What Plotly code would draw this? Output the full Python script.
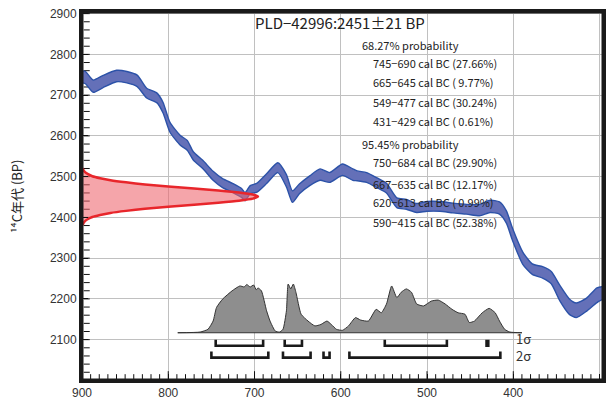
import plotly.graph_objects as go

# ---------------- data ----------------
# IntCal20 calibration curve (years BC, 14C BP centre, 1-sigma half width)
curve_year = [900, 896, 887, 876, 860, 848, 836, 825, 813, 806, 798, 786, 778, 771, 760, 748,
              737, 725, 715, 711, 705, 697, 686, 673, 663, 656, 648, 636, 624, 613, 598, 586,
              581, 570, 558, 547, 535, 524, 512, 500, 485, 470, 454, 439, 427, 416, 408, 401,
              389, 378, 366, 356, 346, 335, 327, 315, 303, 294]
curve_bp = [2745, 2743, 2722, 2733, 2747, 2744, 2735, 2705, 2693, 2669, 2621, 2589, 2577, 2551,
            2530, 2502, 2484, 2472, 2460, 2451, 2468, 2473, 2495, 2522, 2490, 2451, 2470, 2490,
            2505, 2498, 2517, 2505, 2502, 2498, 2485, 2472, 2436, 2432, 2423, 2427, 2427, 2423,
            2420, 2418, 2427, 2423, 2401, 2359, 2300, 2273, 2265, 2252, 2214, 2181, 2172, 2186,
            2209, 2216]
curve_sigma = [15, 15, 15, 15, 14, 14, 14, 12, 12, 13, 12, 12, 12, 10, 10, 11, 11, 11, 11, 10,
               10, 11, 12, 12, 15, 14, 12, 12, 14, 12, 14, 14, 12, 12, 12, 12, 12, 12, 11, 12,
               12, 12, 12, 14, 15, 15, 15, 15, 15, 13, 14, 15, 19, 19, 18, 16, 18, 15]

# measured radiocarbon date distribution (14C BP, extent in years from the left axis)
red_bp = [2381, 2386, 2391, 2396, 2401, 2406, 2411, 2416, 2421, 2426, 2431, 2436, 2441, 2446,
          2451, 2456, 2461, 2466, 2471, 2476, 2481, 2486, 2491, 2496, 2501, 2506, 2511, 2516, 2521]
red_extent = [0.8, 1.7, 3.5, 7, 12, 21, 33, 51, 73, 100, 130, 158, 182, 198,
              204, 198, 182, 158, 130, 100, 73, 51, 33, 21, 12, 7, 3.5, 1.7, 0.8]

# calibrated probability distribution (years BC, relative probability)
cal_year = [789, 763, 754, 748, 744, 737, 726, 717, 712, 709, 705, 701, 698, 696, 692, 686, 682,
            676, 671, 667, 663, 661, 658, 655, 652, 646, 638, 630, 623, 616, 611, 605, 598, 591,
            583, 577, 568, 559, 553, 547, 541, 535, 530, 524, 518, 512, 504, 495, 487, 479, 471,
            464, 456, 451, 445, 436, 428, 421, 416, 410, 404, 390]
cal_prob = [0, 0.014, 0.07, 0.24, 0.52, 0.69, 0.86, 0.96, 0.94, 0.99, 0.94, 0.98, 0.88, 0.92,
            0.86, 0.45, 0.24, 0.035, 0.014, 0.07, 0.45, 1.0, 0.90, 1.0, 0.83, 0.38, 0.24, 0.14,
            0.17, 0.24, 0.17, 0.07, 0.05, 0.14, 0.31, 0.26, 0.24, 0.48, 0.41, 0.59, 0.96, 0.72,
            0.83, 0.90, 0.83, 0.59, 0.55, 0.65, 0.67, 0.59, 0.48, 0.41, 0.38, 0.21, 0.24, 0.41,
            0.50, 0.41, 0.24, 0.07, 0.014, 0]

range_1s = [(745, 690), (665, 645), (549, 477), (431, 429)]
range_2s = [(750, 684), (667, 635), (620, 613), (590, 415)]

header_text = "OxCal v4.4.2 Bronk Ramsey (2020); r:1;Atmospheric data from Reimer et al (2020);"
title_text = "PLD−42996:2451±21 BP"
prob_head_1 = "68.27% probability"
prob_lines_1 = ["745−690 cal BC (27.66%)", "665−645 cal BC ( 9.77%)",
                "549−477 cal BC (30.24%)", "431−429 cal BC ( 0.61%)"]
prob_head_2 = "95.45% probability"
prob_lines_2 = ["750−684 cal BC (29.90%)", "667−635 cal BC (12.17%)",
                "620−613 cal BC ( 0.99%)", "590−415 cal BC (52.38%)"]
sigma_labels = ["1σ", "2σ"]
y_title = "¹⁴C年代 (BP)"

# ---------------- styling ----------------
FONT = "Noto Sans CJK JP"
X_LEFT = 900
X_RANGE = [900, 296]
Y_RANGE = [2001, 2904]
CAL_BASE = 2117
CAL_SCALE = 119.5
PX_PER_X = 521.0 / abs(X_RANGE[1] - X_RANGE[0])
PX_PER_Y = 368.0 / (Y_RANGE[1] - Y_RANGE[0])


def px2data(px, py):
    return X_RANGE[0] - (px - 82) / PX_PER_X, Y_RANGE[0] + (380 - py) / PX_PER_Y


fig = go.Figure()

# inside minor ticks along the left and bottom axes
tx, ty = [], []
for v in range(310, 900, 10):
    ln = 8 if v % 100 == 0 else 5
    tx += [v, v, None]
    ty += [Y_RANGE[0] + 2, Y_RANGE[0] + 2 + ln / PX_PER_Y, None]
for v in range(2020, 2901, 20):
    tx += [X_RANGE[0] - 2, X_RANGE[0] - 2 - 6 / PX_PER_X, None]
    ty += [v, v, None]
fig.add_trace(go.Scatter(x=tx, y=ty, mode="lines", line=dict(color="#111", width=1)))

# calibration curve band
lower = [c - s for c, s in zip(curve_bp, curve_sigma)]
upper = [c + s for c, s in zip(curve_bp, curve_sigma)]
fig.add_trace(go.Scatter(x=curve_year, y=lower, mode="lines",
                         line=dict(color="#2c52a8", width=1.4, shape="spline", smoothing=0.6)))
fig.add_trace(go.Scatter(x=curve_year, y=upper, mode="lines", fill="tonexty",
                         fillcolor="#6470b8",
                         line=dict(color="#2c52a8", width=1.4, shape="spline", smoothing=0.6)))

# measured date distribution
red_x = [X_LEFT - e for e in red_extent]
fig.add_trace(go.Scatter(x=[X_LEFT] + red_x + [X_LEFT], y=[red_bp[0]] + red_bp + [red_bp[-1]],
                         mode="lines", line=dict(width=0, color="rgba(0,0,0,0)"),
                         fill="toself", fillcolor="rgba(238,100,108,0.58)"))
fig.add_trace(go.Scatter(x=red_x, y=red_bp, mode="lines",
                         line=dict(color="#e8262b", width=2.5, shape="spline", smoothing=0.5)))

# calibrated distribution
cal_y = [CAL_BASE + p * CAL_SCALE for p in cal_prob]
fig.add_trace(go.Scatter(x=cal_year, y=cal_y, mode="lines", fill="toself",
                         fillcolor="#8e8e8e",
                         line=dict(color="#333", width=1, shape="spline", smoothing=0.5)))
fig.add_trace(go.Scatter(x=[cal_year[0], cal_year[-1]], y=[CAL_BASE, CAL_BASE], mode="lines",
                         line=dict(color="#333", width=1.2)))

# range brackets
def brackets(ranges, top, low):
    bx, by = [], []
    for a, b in ranges:
        bx += [a, a, b, b, None]
        by += [top, low, low, top, None]
    return bx, by

for rng, top, low in [(range_1s, 2100, 2085), (range_2s, 2071, 2056)]:
    bx, by = brackets(rng, top, low)
    fig.add_trace(go.Scatter(x=bx, y=by, mode="lines",
                             line=dict(color="#1a1a1a", width=2.6)))

# ---------------- texts as text traces ----------------
def add_text(px, py, text, size, color="#222"):
    xd, yd = px2data(px, py)
    fig.add_trace(go.Scatter(x=[xd], y=[yd], mode="text", text=[text],
                             textposition="middle right", cliponaxis=False,
                             textfont=dict(size=size, family=FONT, color=color)))

add_text(88, 6, header_text, 7, "#333")
add_text(255, 25, title_text, 15)
add_text(362, 47.5, prob_head_1, 11)
for py, t in zip([65.7, 84.3, 104.3, 123.7], prob_lines_1):
    add_text(373, py, t, 11)
add_text(362, 146.7, prob_head_2, 11)
for py, t in zip([164, 186.7, 204, 224], prob_lines_2):
    add_text(373, py, t, 11)
for py, t in zip([341, 358], sigma_labels):
    add_text(516, py, t, 13, "#333")

fig.update_layout(
    template="none",
    width=609, height=405,
    margin=dict(l=82, r=6, t=12, b=25, autoexpand=False),
    paper_bgcolor="white", plot_bgcolor="white",
    showlegend=False,
    annotations=[dict(x=(16 - 82) / 521.0, y=(380 - 197) / 368.0, xref="paper", yref="paper",
                      text=y_title, textangle=-90, showarrow=False,
                      xanchor="center", yanchor="middle",
                      font=dict(size=13, family=FONT, color="#222"))],
    shapes=[dict(type="rect", xref="paper", yref="paper", x0=0, x1=1, y0=0, y1=1,
                 line=dict(color="#1a1a1a", width=3))],
    xaxis=dict(range=X_RANGE, dtick=100, tick0=0, showgrid=True, gridcolor="#c0c0c0",
               gridwidth=1, showline=True, linewidth=3, linecolor="#1a1a1a", mirror=True,
               ticks="inside", ticklen=6, tickcolor="#111", automargin=False,
               zeroline=False, tickfont=dict(size=12, family="Liberation Sans", color="#333")),
    yaxis=dict(range=Y_RANGE, dtick=100, tick0=0, showgrid=True, gridcolor="#c0c0c0",
               gridwidth=1, showline=True, linewidth=3, linecolor="#1a1a1a", mirror=True,
               ticks="inside", ticklen=6, tickcolor="#111", automargin=False,
               zeroline=False, tickfont=dict(size=12, family="Liberation Sans", color="#333")),
)

fig.write_html("out.html")
